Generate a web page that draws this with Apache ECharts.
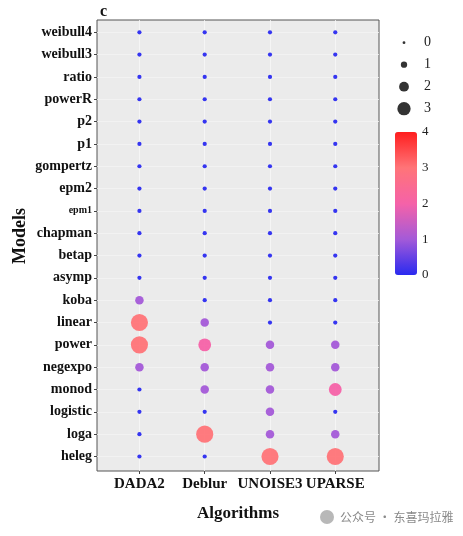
<!DOCTYPE html>
<html>
<head>
<meta charset="utf-8">
<script src="https://cdn.jsdelivr.net/npm/echarts@6/dist/echarts.min.js"></script>
<style>html,body{margin:0;padding:0;background:#fff;}#c{width:463px;height:536px;}</style>
</head>
<body>
<div id="c"></div>
<script>
// Data (model rows listed top -> bottom)
const algorithms = ['DADA2', 'Deblur', 'UNOISE3', 'UPARSE'];
const models = ['weibull4','weibull3','ratio','powerR','p2','p1','gompertz','epm2','epm1','chapman','betap','asymp','koba','linear','power','negexpo','monod','logistic','loga','heleg'];
const dada2   = [0,0,0,0,0,0,0,0,0,0,0,0, 1,3,3,1,0,0,0,0];
const deblur  = [0,0,0,0,0,0,0,0,0,0,0,0, 0,1,2,1,1,0,3,0];
const unoise3 = [0,0,0,0,0,0,0,0,0,0,0,0, 0,0,1,1,1,1,1,3];
const uparse  = [0,0,0,0,0,0,0,0,0,0,0,0, 0,0,1,1,2,0,1,3];
const sizeLegendValues = [0,1,2,3];
const colorTicks = [0,1,2,3,4];

const seriesValues = [dada2, deblur, unoise3, uparse];
const nRows = models.length;
const mainData = [];
seriesValues.forEach((vals, a) => {
  vals.forEach((v, i) => mainData.push([a + 1, nRows - i, v]));
});
const rowVals = models.map((m, i) => nRows - i);
const colVals = algorithms.map((a, i) => i + 1);

const serif = 'Liberation Serif';
const chart = echarts.init(document.getElementById('c'), null, {renderer: 'canvas'});
chart.setOption({
  animation: false,
  backgroundColor: '#ffffff',
  title: {
    text: 'c', left: 95, top: -1,
    textStyle: {fontFamily: serif, fontWeight: 'bold', fontSize: 16, color: '#111'}
  },
  graphic: [
    {type: 'text', x: 20, y: 236, rotation: Math.PI / 2,
     style: {text: 'Models', font: 'bold 18px "Liberation Serif"', fill: '#111', align: 'center', verticalAlign: 'middle'}},
    {type: 'text', x: 340, y: 517,
     style: {text: '公众号 · 东喜玛拉雅', font: '12px "Noto Sans CJK SC"', fill: '#8a8a8a', align: 'left', verticalAlign: 'middle'}},
    {type: 'circle', shape: {cx: 327, cy: 517, r: 7}, style: {fill: '#b8b8b8'}}
  ],
  grid: [
    {left: 97, top: 20, width: 282, height: 451, show: true, backgroundColor: '#ebebeb', borderColor: '#555', borderWidth: 1},
    {left: 394, top: 31.7, width: 20, height: 88},
    {left: 395, top: 132, width: 22, height: 143}
  ],
  xAxis: [
    {
      gridIndex: 0, type: 'value', min: 0.35, max: 4.67,
      name: 'Algorithms', nameLocation: 'middle', nameGap: 34,
      nameTextStyle: {fontFamily: serif, fontWeight: 'bold', fontSize: 17, color: '#111'},
      axisLine: {show: false},
      axisTick: {show: true, length: 3, lineStyle: {color: '#444'}, customValues: colVals},
      axisLabel: {customValues: colVals, margin: 6, fontFamily: serif, fontWeight: 'bold', fontSize: 15, color: '#111',
        formatter: v => algorithms[Math.round(v) - 1] || ''},
      splitLine: {show: true, lineStyle: {color: '#f7f7f7', width: 0.8}}
    },
    {gridIndex: 1, type: 'value', min: -1, max: 1, show: false},
    {gridIndex: 2, type: 'value', min: 0, max: 1, show: false}
  ],
  yAxis: [
    {
      gridIndex: 0, type: 'value', min: 0.35, max: 20.55,
      axisLine: {show: false},
      axisTick: {show: true, length: 3, lineStyle: {color: '#444'}, customValues: rowVals},
      axisLabel: {customValues: rowVals, margin: 5, fontFamily: serif, fontWeight: 'bold', fontSize: 14, color: '#111',
        formatter: v => {
          const name = models[nRows - Math.round(v)] || '';
          return name === 'epm1' ? '{s|' + name + '}' : name;
        },
        rich: {s: {fontFamily: serif, fontWeight: 'bold', fontSize: 10, color: '#111'}}
      },
      splitLine: {show: true, lineStyle: {color: '#f4f4f4', width: 0.8}}
    },
    {
      gridIndex: 1, type: 'value', min: -0.5, max: 3.5, inverse: true, position: 'right',
      axisLine: {show: false}, axisTick: {show: false}, splitLine: {show: false},
      axisLabel: {customValues: sizeLegendValues, margin: 10, fontFamily: serif, fontSize: 14, color: '#222'}
    },
    {
      gridIndex: 2, type: 'value', min: 0, max: 4, interval: 1, position: 'right',
      axisLine: {show: false}, splitLine: {show: false},
      axisTick: {show: true, inside: true, length: 3, lineStyle: {color: '#ffffff', width: 1}},
      axisLabel: {margin: 5, fontFamily: serif, fontSize: 13, color: '#222'}
    }
  ],
  visualMap: {
    type: 'continuous', min: 0, max: 4, dimension: 2, seriesIndex: 0,
    left: 395, top: 132, itemWidth: 22, itemHeight: 143, padding: 0,
    text: null, showLabel: false, calculable: false, hoverLink: false,
    inRange: {color: ['#2a2af0', '#a45ad8', '#f562a8', '#ff7478', '#ff1e1e']}
  },
  series: [
    {
      type: 'scatter', xAxisIndex: 0, yAxisIndex: 0, data: mainData,
      symbol: 'circle', symbolSize: d => 4.2 + d[2] * 4.3,
      itemStyle: {opacity: 0.95}
    },
    {
      type: 'scatter', xAxisIndex: 1, yAxisIndex: 1,
      data: sizeLegendValues.map(v => [0, v]),
      symbol: 'circle', symbolSize: d => 2.8 + d[1] * 3.5,
      itemStyle: {color: '#000'}
    },
    {type: 'scatter', xAxisIndex: 2, yAxisIndex: 2, data: [], silent: true}
  ]
});
</script>
</body>
</html>
